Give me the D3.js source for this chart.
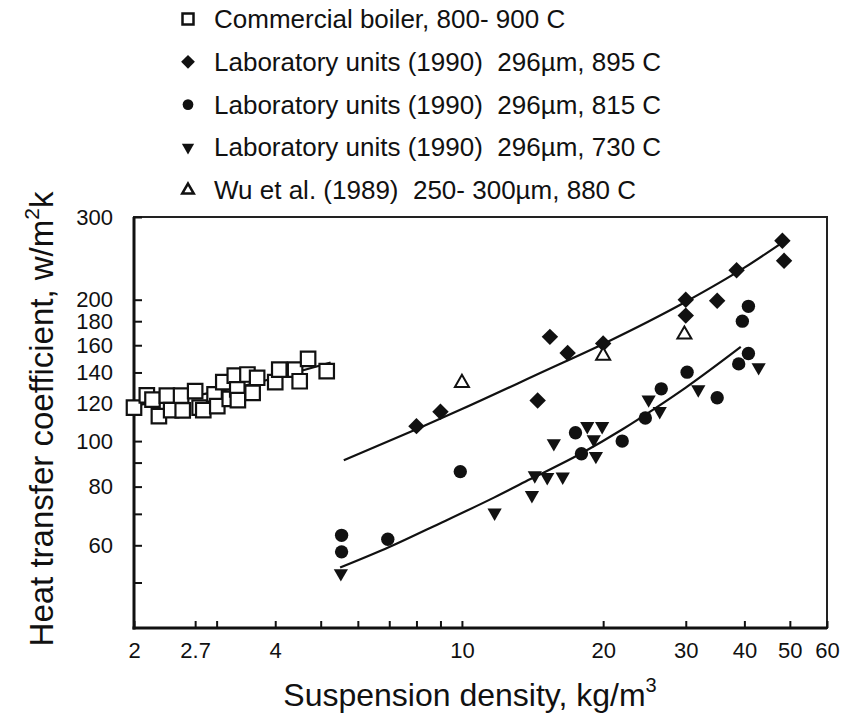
<!DOCTYPE html>
<html>
<head>
<meta charset="utf-8">
<script src="https://cdn.jsdelivr.net/npm/d3@7"></script>
<style>
  body { margin: 0; background: #fff; }
  svg { font-family: "Liberation Sans", Arial, sans-serif; }
  .axis text { font-size: 22px; fill: #111; }
  .axis path { display: none; }
  .axis line { stroke: #111; stroke-width: 2; }
</style>
</head>
<body>
<div id="chart"></div>
<script>
// suspension density (kg/m3) and heat transfer coefficient (W/m2K)
var boilerX = [2.0, 2.13, 2.19, 2.26, 2.35, 2.40, 2.52, 2.54, 2.70, 2.76, 2.81, 2.97, 3.01, 3.10, 3.20, 3.28, 3.32, 3.33, 3.49, 3.58, 3.66, 4.0, 4.08, 4.41, 4.51, 4.70, 5.15];
var boilerY = [117.8, 125.1, 122.6, 113, 125, 116.4, 125, 116.2, 127.7, 117.8, 116.4, 125.7, 118.7, 133.5, 123, 137.9, 128.8, 122.2, 138.6, 126.7, 136.4, 133.5, 142, 142, 134.1, 149.7, 140.9];

var lab895X = [8.0, 9.0, 14.5, 15.4, 16.8, 20, 30, 30, 35, 38.5, 48.2, 48.6];
var lab895Y = [107.6, 115.5, 122, 166.7, 154, 161.3, 200, 185, 198.9, 231, 267, 242];

var lab815X = [5.54, 5.54, 6.95, 9.92, 17.46, 17.98, 21.96, 24.6, 26.6, 30.2, 35, 40.8, 39.6, 40.8, 38.9];
var lab815Y = [63, 58.1, 61.8, 86.1, 104.2, 94, 100, 112, 129.2, 140.2, 123.7, 193.6, 180, 153.6, 146];

var lab730X = [5.52, 11.74, 14.1, 14.3, 15.2, 16.4, 15.7, 18.5, 19.9, 19.1, 19.3, 25, 26.4, 31.9, 42.9];
var lab730Y = [52.3, 70.4, 76.7, 84.5, 83.8, 84, 98.9, 107.6, 107.6, 100.8, 92.9, 122.6, 115.8, 128.8, 143.6];

var wuX = [10.0, 20, 29.8];
var wuY = [133, 152, 168.6];

// fitted curves
var fitUpperX = [5.6, 8, 10, 15, 20, 30, 40, 48];
var fitUpperY = [91, 106, 117, 141, 161, 198, 234, 264];
var fitLowerX = [5.5, 7, 8.6, 11.7, 14, 17.9, 22, 26, 30, 39.3];
var fitLowerY = [53.8, 59.5, 65.5, 75.8, 83, 94, 106, 118, 130, 158.7];
var fitBoilerX = [2, 3.3, 5.25];
var fitBoilerY = [119, 130, 147];

var xTicks = [2, 2.7, 3, 4, 5, 6, 7, 8, 9, 10, 20, 30, 40, 50, 60];
var xLabels = [2, 2.7, 4, 10, 20, 30, 40, 50, 60];
var yTicks = [50, 60, 70, 80, 90, 100, 120, 140, 160, 180, 200, 300];
var yLabels = [60, 80, 100, 120, 140, 160, 180, 200, 300];

var legendLabels = [
  "Commercial boiler, 800- 900 C",
  "Laboratory units (1990)  296\u00b5m, 895 C",
  "Laboratory units (1990)  296\u00b5m, 815 C",
  "Laboratory units (1990)  296\u00b5m, 730 C",
  "Wu et al. (1989)  250- 300\u00b5m, 880 C"
];

(function() {
  var W = 855, H = 718;
  var margin = { top: 217, left: 134, right: 28, bottom: 90 };
  var x0 = margin.left, x1 = W - margin.right,
      y0 = margin.top, y1 = H - margin.bottom;

  var svg = d3.select("#chart").append("svg")
    .attr("width", W)
    .attr("height", H);

  svg.append("rect").attr("width", W).attr("height", H).attr("fill", "#fff");

  var x = d3.scaleLog().domain([2, 60]).range([x0, x1]);
  var y = d3.scaleLog().domain([40, 300]).range([y1, y0]);

  function zip(xs, ys) {
    return xs.map(function(v, i) { return [v, ys[i]]; });
  }

  // frame
  svg.append("rect")
    .attr("x", x0).attr("y", y0)
    .attr("width", x1 - x0).attr("height", y1 - y0)
    .attr("fill", "none").attr("stroke", "#222").attr("stroke-width", 2);

  // axes with inward ticks
  var xAxis = d3.axisBottom(x)
    .tickValues(xTicks)
    .tickSizeInner(-7).tickSizeOuter(0).tickPadding(14)
    .tickFormat(function(d) { return xLabels.indexOf(d) >= 0 ? String(d) : ""; });

  svg.append("g")
    .attr("class", "axis x-axis")
    .attr("transform", "translate(0," + y1 + ")")
    .call(xAxis);

  var yAxis = d3.axisLeft(y)
    .tickValues(yTicks)
    .tickSizeInner(-8).tickSizeOuter(0).tickPadding(21)
    .tickFormat(function(d) { return yLabels.indexOf(d) >= 0 ? String(d) : ""; });

  svg.append("g")
    .attr("class", "axis y-axis")
    .attr("transform", "translate(" + x0 + ",0)")
    .call(yAxis);

  // heavier left and bottom axis lines
  svg.append("line").attr("x1", x0).attr("x2", x0).attr("y1", y0).attr("y2", y1 + 1.5)
    .attr("stroke", "#111").attr("stroke-width", 3);
  svg.append("line").attr("x1", x0 - 1.5).attr("x2", x1).attr("y1", y1).attr("y2", y1)
    .attr("stroke", "#111").attr("stroke-width", 3);

  // fit lines
  var line = d3.line()
    .x(function(d) { return x(d[0]); })
    .y(function(d) { return y(d[1]); })
    .curve(d3.curveMonotoneX);

  [zip(fitUpperX, fitUpperY), zip(fitLowerX, fitLowerY), zip(fitBoilerX, fitBoilerY)].forEach(function(pts) {
    svg.append("path")
      .attr("d", line(pts))
      .attr("fill", "none")
      .attr("stroke", "#111")
      .attr("stroke-width", 2.2);
  });

  // marker styles
  var styles = [
    { type: d3.symbolSquare, size: 210, size2: 121, rot: 0, fill: "#fff", stroke: 2.2 },
    { type: d3.symbolSquare, size: 135, size2: 95, rot: 45, fill: "#111", stroke: 0 },
    { type: d3.symbolCircle, size: 140, size2: 90, rot: 0, fill: "#111", stroke: 0 },
    { type: d3.symbolTriangle, size: 88, size2: 65, rot: 180, fill: "#111", stroke: 0 },
    { type: d3.symbolTriangle, size: 85, size2: 58, rot: 0, fill: "#fff", stroke: 2 }
  ];

  var series = [
    zip(boilerX, boilerY),
    zip(lab895X, lab895Y),
    zip(lab815X, lab815Y),
    zip(lab730X, lab730Y),
    zip(wuX, wuY)
  ];

  series.forEach(function(pts, i) {
    var s = styles[i];
    svg.append("g").selectAll("path")
      .data(pts)
      .enter().append("path")
      .attr("d", d3.symbol().type(s.type).size(s.size))
      .attr("transform", function(d) {
        return "translate(" + x(d[0]) + "," + y(d[1]) + ") rotate(" + s.rot + ")";
      })
      .attr("fill", s.fill)
      .attr("stroke", "#111")
      .attr("stroke-width", s.stroke);
  });

  // legend
  var legend = svg.append("g").attr("class", "legend");
  legendLabels.forEach(function(label, i) {
    var s = styles[i];
    var cy = 19 + i * 42.8;
    legend.append("path")
      .attr("d", d3.symbol().type(s.type).size(s.size2))
      .attr("transform", "translate(188," + cy + ") rotate(" + s.rot + ")")
      .attr("fill", s.fill)
      .attr("stroke", "#111")
      .attr("stroke-width", s.stroke === 0 ? 0 : 2.5);
    legend.append("text")
      .attr("x", 214)
      .attr("y", cy + 9)
      .attr("font-size", 26)
      .attr("fill", "#111")
      .style("white-space", "pre")
      .text(label);
  });

  // axis titles
  var xt = svg.append("text")
    .attr("x", 470).attr("y", 706)
    .attr("text-anchor", "middle")
    .attr("font-size", 32)
    .attr("fill", "#111");
  xt.append("tspan").text("Suspension density, kg/m");
  xt.append("tspan").attr("font-size", 20).attr("dy", -14).text("3");

  var yt = svg.append("text")
    .attr("transform", "translate(53,419) rotate(-90)")
    .attr("text-anchor", "middle")
    .attr("font-size", 33)
    .attr("fill", "#111");
  yt.append("tspan").text("Heat transfer coefficient, w/m");
  yt.append("tspan").attr("font-size", 21).attr("dy", -14).text("2");
  yt.append("tspan").attr("dy", 14).text("k");
})();
</script>
</body>
</html>
